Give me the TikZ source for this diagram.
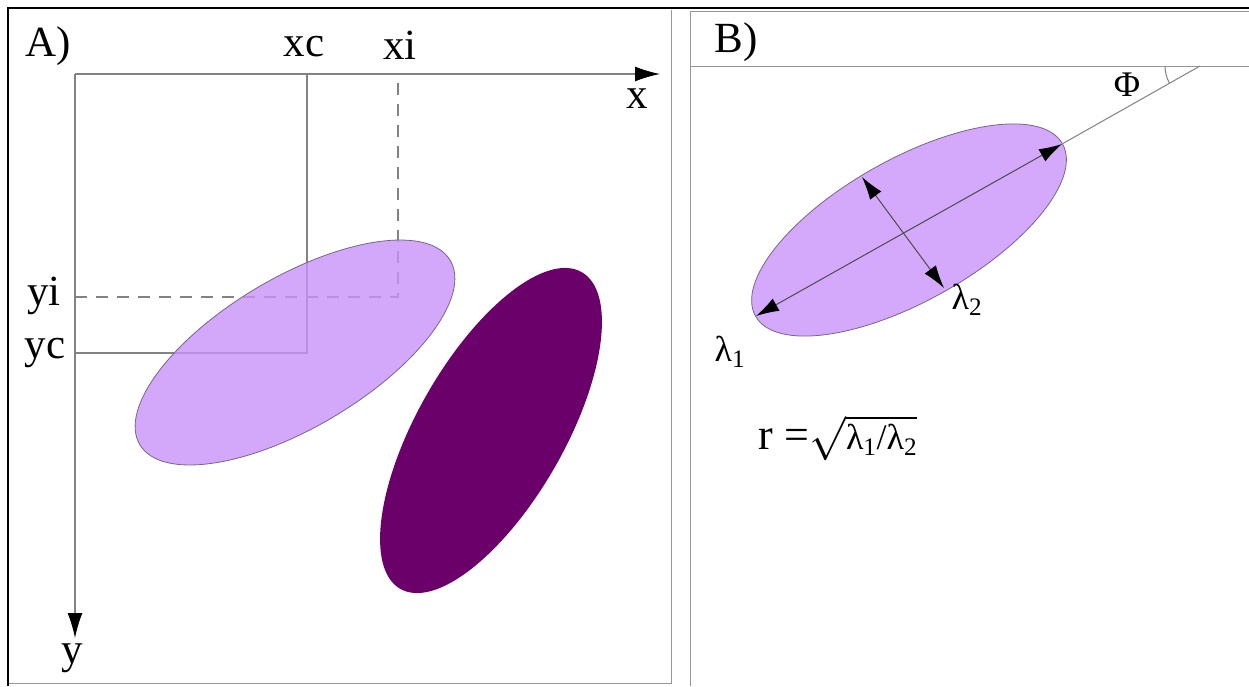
\documentclass[tikz,border=0pt]{standalone}
\usepackage{fix-cm}
\usepackage{fontspec}
\setmainfont{Liberation Serif}
\usetikzlibrary{arrows.meta}
\definecolor{lav}{RGB}{201,146,249}
\definecolor{lavsolid}{RGB}{212,168,250}
\definecolor{plum}{RGB}{107,0,107}
\definecolor{axisgray}{RGB}{130,130,130}
\definecolor{edgegray}{RGB}{120,100,140}
\definecolor{framegray}{RGB}{150,150,150}
\begin{document}
\begin{tikzpicture}[x=1pt,y=-1pt,
  axis/.style={draw=axisgray,line width=1.2pt},
  guide/.style={draw=axisgray,line width=1.2pt,dash pattern=on 12pt off 9pt},
  bigtip/.style={-{Latex[length=25pt,width=15pt,color=black]}},
  dbltip/.style={{Latex[length=23pt,width=14pt,color=black]}-{Latex[length=23pt,width=14pt,color=black]}},
  lab/.style={inner sep=0pt,font=\fontsize{43}{48}\selectfont},
  lamlab/.style={inner sep=0pt,font=\fontsize{36}{40}\selectfont},
  frameline/.style={draw=framegray,line width=1pt}]
\useasboundingbox (0,0) rectangle (1249,686);
\fill[white] (0,0) rectangle (1249,686);
% frames
\draw[frameline] (8,683) -- (671,683) -- (671,10);
\draw[frameline] (690,686) -- (690,11) -- (1249,11);
\draw[line width=2.6pt] (8,686) -- (8,8) -- (1249,8);
% ---------- panel A ----------
\coordinate (O) at (75,74);
\coordinate (XE) at (660,74);
\coordinate (YE) at (75,638);
\coordinate (XC) at (307,74);
\coordinate (C) at (307,353);
\coordinate (YC) at (75,353);
\coordinate (XI) at (398,74);
\coordinate (I) at (398,297);
\coordinate (YI) at (75,297);
\draw[guide] (YI) -- (I) -- (XI);
\draw[axis] (XC) -- (C) -- (YC);
\draw[axis,bigtip] (O) -- (XE);
\draw[axis,bigtip] (O) -- (YE);
\fill[lav,fill opacity=0.8] (295,352.5) [rotate around={30.7:(295,352.5)}] ellipse [x radius=180.5,y radius=75];
\draw[edgegray,line width=0.8pt] (295,352.5) [rotate around={30.7:(295,352.5)}] ellipse [x radius=180.5,y radius=75];
\fill[plum] (491,430.5) [rotate around={60.2:(491,430.5)}] ellipse [x radius=182.5,y radius=73.6];
\node[lab] (tA) at (48,46) {A)};
\node[lab] (txc) at (304,47) {xc};
\node[lab] (txi) at (400,45) {xi};
\node[lab] (tx) at (637,99) {x};
\node[lab] (ty) at (72,658) {y};
\node[lab] (tyi) at (44,296) {yi};
\node[lab] (tyc) at (45,353) {yc};
% ---------- panel B ----------
\draw[frameline] (690,66) -- (1249,66);
\coordinate (bc) at (909,230);
\coordinate (V) at (1200,66);
\coordinate (M1) at (1062,144);
\coordinate (M2) at (756,316);
\coordinate (N1) at (862,177);
\coordinate (N2) at (944,288);
\fill[lavsolid] (bc) [rotate around={29.3:(bc)}] ellipse [x radius=176,y radius=71];
\draw[edgegray,line width=0.8pt] (bc) [rotate around={29.3:(bc)}] ellipse [x radius=176,y radius=71];
\draw[axis,line width=1pt] (M1) -- (V);
\draw[draw=black!70,line width=1pt,dbltip] (M2) -- (M1);
\draw[draw=black!70,line width=1pt,dbltip] (N1) -- (N2);
\draw[axis,line width=1pt] (V) ++(-35,0) arc[start angle=180,end angle=150.7,radius=35];
\node[lab] (tB) at (736,42) {B)};
\node[inner sep=0pt,font=\fontsize{36}{40}\selectfont] (tphi) at (1127,85) {Φ};
\node[lamlab] (tl1) at (730,352) {λ\textsubscript{1}};
\node[lamlab] (tl2) at (967,300) {λ\textsubscript{2}};
\node[inner sep=0pt,font=\fontsize{44}{50}\selectfont] (tr) at (838,438) {r =$\sqrt{\mbox{\fontsize{36}{40}\selectfont λ\textsubscript{1}/λ\textsubscript{2}}}$};
\end{tikzpicture}
\end{document}
